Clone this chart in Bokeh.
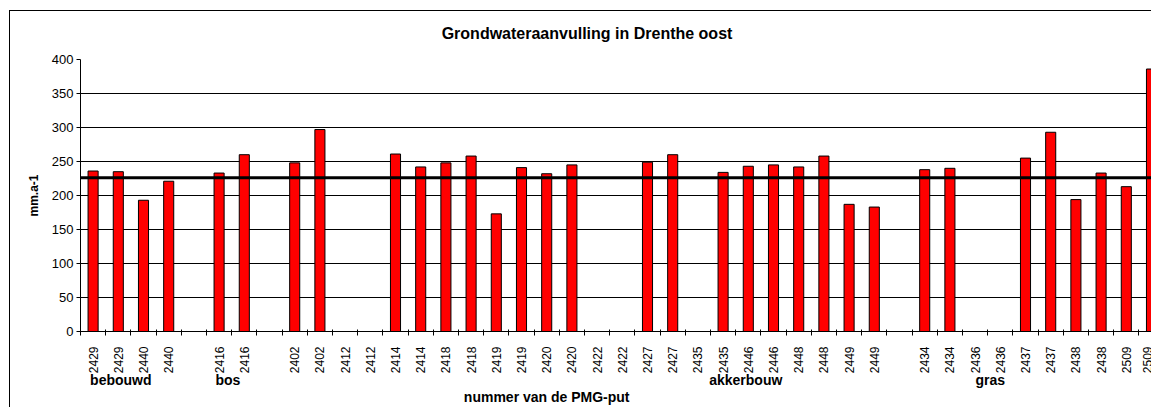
import math
from bokeh.plotting import figure
from bokeh.models import Range1d, FixedTicker, Span, LinearAxis, ColumnDataSource
from bokeh.embed import file_html
from bokeh.resources import INLINE

# ---------------- data ----------------
chart_title = "Grondwateraanvulling in Drenthe oost"
y_title = "mm.a-1"
x_title = "nummer van de PMG-put"

put_labels = ["2429", "2429", "2440", "2440", "", "2416", "2416", "", "2402", "2402",
              "2412", "2412", "2414", "2414", "2418", "2418", "2419", "2419", "2420", "2420",
              "2422", "2422", "2427", "2427", "2435", "2435", "2446", "2446", "2448", "2448",
              "2449", "2449", "", "2434", "2434", "2436", "2436", "2437", "2437", "2438",
              "2438", "2509", "2509"]

recharge = [236, 235, 193, 221, None, 233, 260, None, 248, 297,
            None, None, 261, 242, 248, 258, 173, 241, 232, 245,
            None, None, 249, 260, None, 234, 243, 245, 242, 258,
            187, 183, None, 238, 240, None, None, 255, 293, 194,
            233, 213, 386]

mean_recharge = 226

groups = ["bebouwd", "bos", "akkerbouw", "gras"]

y_ticks = [0, 50, 100, 150, 200, 250, 300, 350, 400]

# ---------------- derived ----------------
n = len(put_labels)
centers = [i + 0.5 for i in range(n)]
bar_x = [c for c, v in zip(centers, recharge) if v is not None]
bar_top = [v for v in recharge if v is not None]
src = ColumnDataSource(dict(x=bar_x, top=bar_top))

FONT = "Liberation Sans"

p = figure(width=1151, height=407, output_backend="svg", toolbar_location=None,
           x_range=Range1d(0, n - 0.5), y_range=Range1d(0, 400),
           min_border_left=80, min_border_right=0, min_border_top=59, min_border_bottom=76,
           background_fill_color="white", border_fill_color=None)
# chart-area border (left and top edge visible) drawn behind the transparent canvas border
p.styles = {
    "background": "linear-gradient(#000, #000) 9px 10px / 1px 100% no-repeat, "
                  "linear-gradient(#000, #000) 9px 10px / 100% 1px no-repeat, #fff"
}
p.outline_line_color = None

p.vbar(x="x", top="top", width=0.4, bottom=0, source=src,
       fill_color="#FF0000", line_color="black", line_width=1)

p.add_layout(Span(location=mean_recharge, dimension="width",
                  line_color="black", line_width=3))

# x axis (put numbers)
xa = p.xaxis[0]
xa.ticker = FixedTicker(ticks=centers, minor_ticks=list(range(n + 1)))
xa.major_label_overrides = {c: lab for c, lab in zip(centers, put_labels)}
xa.major_label_orientation = math.pi / 2
xa.major_tick_line_color = None
xa.major_tick_in = 0
xa.major_tick_out = 0
xa.minor_tick_in = 2
xa.minor_tick_out = 4
xa.minor_tick_line_color = "black"
xa.major_label_standoff = 11
xa.major_label_text_font = FONT
xa.major_label_text_font_size = "12px"
xa.major_label_text_color = "black"
xa.axis_line_color = "black"


def text_axis(ticks, texts, size, standoff):
    ax = LinearAxis(ticker=FixedTicker(ticks=ticks),
                    major_label_overrides={t: s for t, s in zip(ticks, texts)})
    ax.axis_line_color = None
    ax.major_tick_line_color = None
    ax.minor_tick_line_color = None
    ax.major_tick_in = 0
    ax.major_tick_out = 0
    ax.minor_tick_in = 0
    ax.minor_tick_out = 0
    ax.major_label_standoff = standoff
    ax.major_label_text_font = FONT
    ax.major_label_text_font_size = size
    ax.major_label_text_font_style = "bold"
    ax.major_label_text_color = "black"
    return ax


# group captions and axis title as extra label rows below
group_x = [1.6, 5.85, 26.4, 36.1]
p.add_layout(text_axis(group_x, groups, "14px", -5), "below")
p.add_layout(text_axis([18.5], [x_title], "14px", -2), "below")
# chart title above the plot area
p.add_layout(text_axis([20.1], [chart_title], "16px", 18), "above")

# y axis
ya = p.yaxis[0]
ya.ticker = FixedTicker(ticks=y_ticks)
ya.major_tick_in = 0
ya.major_tick_out = 4
ya.minor_tick_line_color = None
ya.major_label_standoff = 3
ya.major_label_text_font = FONT
ya.major_label_text_font_size = "13px"
ya.major_label_text_color = "black"
ya.axis_line_color = "black"
ya.axis_label = y_title
ya.axis_label_text_font = FONT
ya.axis_label_text_font_size = "12px"
ya.axis_label_text_font_style = "bold"
ya.axis_label_text_color = "black"
ya.axis_label_standoff = 8

p.xgrid.grid_line_color = None
p.ygrid.grid_line_color = "black"
p.ygrid.grid_line_width = 1

open("out.html", "w").write(file_html(p, INLINE))
